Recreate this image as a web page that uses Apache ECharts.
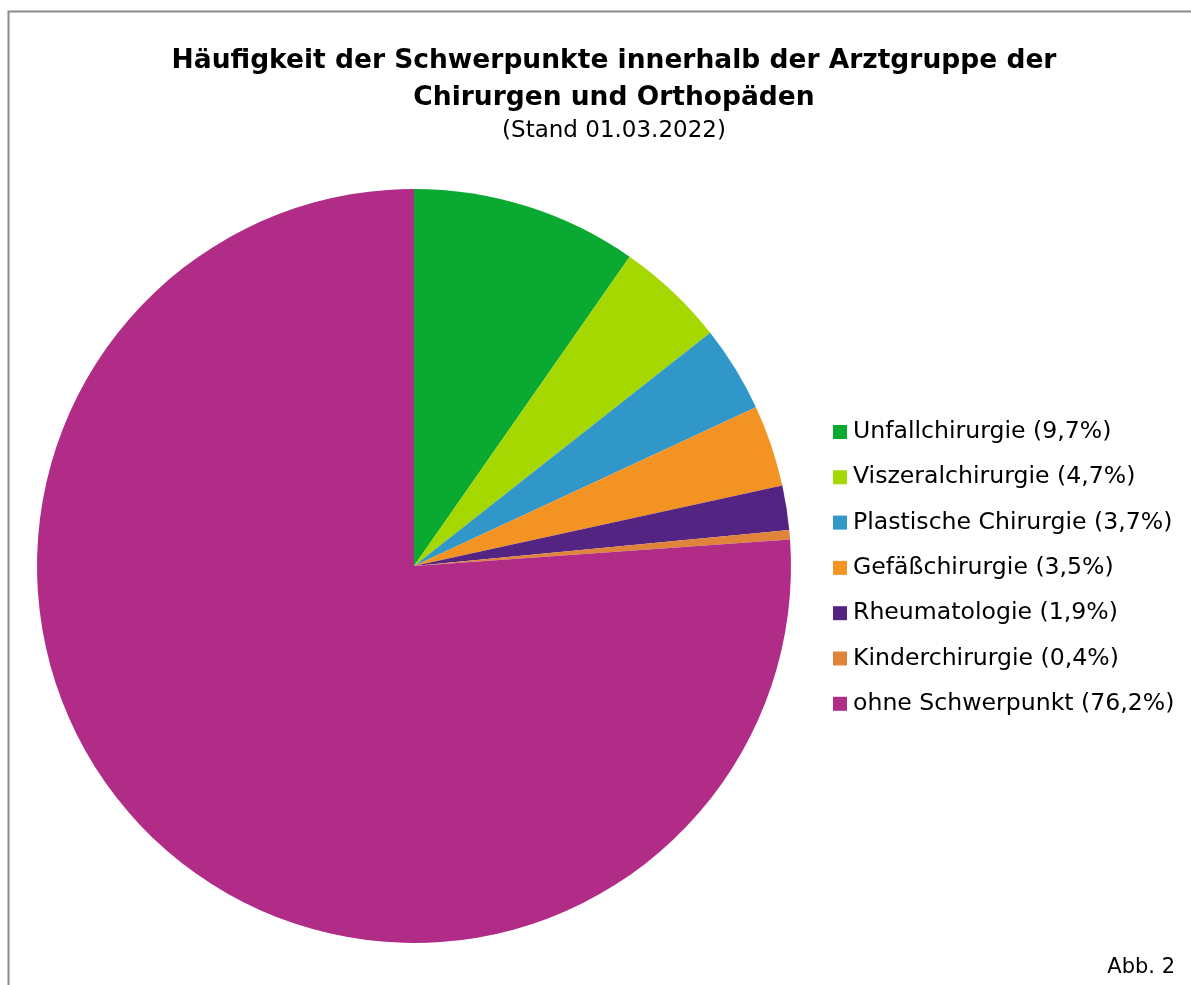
<!DOCTYPE html>
<html>
<head>
<meta charset="utf-8">
<script src="https://cdn.jsdelivr.net/npm/echarts@6/dist/echarts.min.js"></script>
<style>
  html, body { margin: 0; padding: 0; background: #fff; }
  #main { width: 1191px; height: 985px; }
</style>
</head>
<body>
<div id="main"></div>
<script>
// Daten
var categories = ['Unfallchirurgie', 'Viszeralchirurgie', 'Plastische Chirurgie', 'Gefäßchirurgie', 'Rheumatologie', 'Kinderchirurgie', 'ohne Schwerpunkt'];
var percents = [9.7, 4.7, 3.7, 3.5, 1.9, 0.4, 76.2];
var colors = ['#0aaa32', '#a5d800', '#3196c8', '#f39324', '#532481', '#e0843c', '#b02c86'];

var myChart = echarts.init(document.getElementById('main'));

var pieData = categories.map(function (c, i) {
    return { name: c, value: percents[i], itemStyle: { color: colors[i] } };
});

function fmt(v) {
    return v.toFixed(1).replace('.', ',');
}

var font = 'DejaVu Sans, sans-serif';

option = {
    backgroundColor: '#fff',
    animation: false,
    title: {
        text: 'Häufigkeit der Schwerpunkte innerhalb der Arztgruppe der\nChirurgen und Orthopäden',
        subtext: '(Stand 01.03.2022)',
        left: 609,
        top: 38,
        textAlign: 'center',
        itemGap: 0,
        textStyle: {
            fontFamily: font,
            fontSize: 26.5,
            fontWeight: 'bold',
            color: '#000',
            lineHeight: 37
        },
        subtextStyle: {
            fontFamily: font,
            fontSize: 23,
            color: '#000',
            lineHeight: 28
        }
    },
    legend: {
        orient: 'vertical',
        left: 828,
        top: 414,
        itemWidth: 14,
        itemHeight: 14,
        itemGap: 19.3,
        icon: 'rect',
        selectedMode: false,
        formatter: function (name) {
            var i = categories.indexOf(name);
            return name + ' (' + fmt(percents[i]) + '%)';
        },
        textStyle: {
            fontFamily: font,
            fontSize: 23.6,
            color: '#000',
            lineHeight: 26,
            padding: [0, 0, 0, 1]
        },
        data: categories
    },
    graphic: [{
        type: 'rect',
        shape: { x: 8.5, y: 11.5, width: 1200, height: 1000 },
        style: { fill: 'none', stroke: '#8c8c8c', lineWidth: 2 },
        silent: true
    }, {
        type: 'text',
        right: 16,
        top: 957,
        style: {
            text: 'Abb. 2',
            fontFamily: font,
            fontSize: 21,
            fill: '#000'
        }
    }],
    series: [{
        type: 'pie',
        center: [414, 566],
        radius: 377,
        startAngle: 90,
        clockwise: true,
        label: { show: false },
        labelLine: { show: false },
        itemStyle: { borderWidth: 0 },
        emphasis: { disabled: true },
        data: pieData
    }]
};

myChart.setOption(option);
</script>
</body>
</html>
